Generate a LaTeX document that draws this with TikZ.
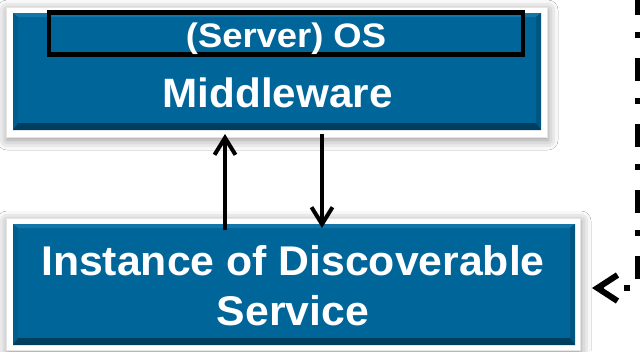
\documentclass[tikz,border=0pt]{standalone}
\usepackage{fontspec}
\usepackage{graphicx}
\setmainfont{Liberation Sans}
\usetikzlibrary{arrows.meta,shadows.blur,calc}

\definecolor{panelblue}{RGB}{0,102,153}
\definecolor{bevtop}{RGB}{20,118,168}
\definecolor{bevleft}{RGB}{0,94,142}
\definecolor{bevright}{RGB}{0,86,128}
\definecolor{bevbottom}{RGB}{0,62,96}

\tikzset{
  frame/.style={fill=white, draw=black!10, line width=0.6pt, inner sep=0pt, outer sep=0pt,
    blur shadow={shadow xshift=1pt, shadow yshift=-3pt, shadow blur radius=10pt, shadow opacity=45}},
  panel/.style={fill=panelblue, inner sep=0pt, outer sep=0pt,
    path picture={
      \coordinate (pa) at (path picture bounding box.north west);
      \coordinate (pb) at (path picture bounding box.north east);
      \coordinate (pc) at (path picture bounding box.south east);
      \coordinate (pd) at (path picture bounding box.south west);
      \fill[bevtop]    (pa) -- (pb) -- ($(pb)+(-5,4)$) -- ($(pa)+(5,4)$) -- cycle;
      \fill[bevleft]   (pa) -- ($(pa)+(5,4)$) -- ($(pd)+(5,-7)$) -- (pd) -- cycle;
      \fill[bevright]  (pb) -- ($(pb)+(-5,4)$) -- ($(pc)+(-5,-7)$) -- (pc) -- cycle;
      \fill[bevbottom] (pd) -- ($(pd)+(5,-7)$) -- ($(pc)+(-5,-7)$) -- (pc) -- cycle;
    }},
  oslayer/.style={draw=black, line width=4.5pt, inner sep=0pt, outer sep=0pt},
  lbl/.style={text=white, font=\bfseries, inner sep=0pt, anchor=base},
  arr/.style={line width=4pt, -{Straight Barb[length=17pt,width=21pt]}},
  dashconn/.style={line width=6pt, dash pattern=on 23pt off 17pt on 6pt off 20pt,
    -{Straight Barb[length=20pt,width=26pt]}},
}

\begin{document}
\begin{tikzpicture}[x=1pt,y=-1pt]
  \clip (0,0) rectangle (640,351);
  \fill[white] (0,0) rectangle (640,351);

  % upper block: middleware on top of the server OS
  \node[frame, minimum width=541pt, minimum height=130pt] (mw) at (276.5,72) {};
  \node[panel, minimum width=528pt, minimum height=117pt] (mwp) at (277,71.5) {};
  \node[oslayer, minimum width=474pt, minimum height=42pt] (os) at (286,33.5) {};
  \node[lbl] (ostext) at (286,47.5)
    {\fontsize{34}{40}\selectfont\scalebox{1.07}[1]{(Server) OS}};
  \node[lbl] (mwtext) at (277.5,107.5)
    {\fontsize{41}{48}\selectfont\scalebox{1.03}[1]{Middleware}};

  % lower block: the service instance
  \node[frame, minimum width=574pt, minimum height=132pt] (svc) at (293,284) {};
  \node[panel, minimum width=562pt, minimum height=121pt] (svcp) at (294,284.5) {};
  \node[lbl] (svctext1) at (293,275.5)
    {\fontsize{41.5}{48}\selectfont\scalebox{1.03}[1]{Instance of Discoverable}};
  \node[lbl] (svctext2) at (293,325.5)
    {\fontsize{41.5}{48}\selectfont\scalebox{1.03}[1]{Service}};

  % request / response arrows between the blocks
  \coordinate (xup) at (225,0);
  \coordinate (xdn) at (322,0);
  \draw[arr, shorten <=-6pt, shorten >=-3pt] (svcp.north -| xup) -- (mw.south -| xup);
  \draw[arr, shorten <=-3pt, shorten >=-4pt] (mw.south -| xdn) -- (svcp.north -| xdn);

  % dash-dotted link coming in from the right
  \coordinate (dtop) at (638,-8);
  \draw[dashconn] (dtop) |- ([xshift=12pt,yshift=-4pt]svc.east);
\end{tikzpicture}
\end{document}
